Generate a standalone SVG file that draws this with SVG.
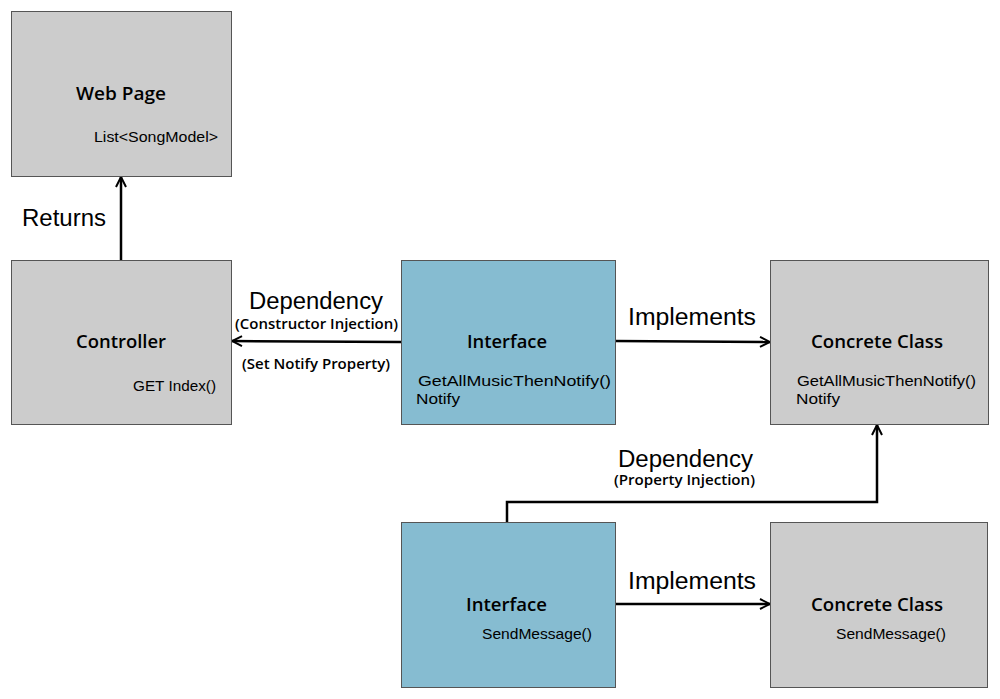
<svg xmlns="http://www.w3.org/2000/svg" width="1000" height="699" viewBox="0 0 1000 699">
<style>
.box{stroke:#555;stroke-width:1}
.gray{fill:#cccccc}
.blue{fill:#86bcd1}
text{font-family:"Liberation Sans",Arial,sans-serif;fill:#000}
.t{font-family:"Open Sans","Liberation Sans",sans-serif;font-size:18px;font-weight:600}
.s{font-size:15px}
.l{font-size:23px}
.p{font-family:"Open Sans","Liberation Sans",sans-serif;font-size:14px;font-weight:600}
.c{fill:none;stroke:#000;stroke-width:2.5}
</style>
<defs>
<marker id="ah" viewBox="0 0 12 12" refX="11" refY="6" markerWidth="12" markerHeight="12" markerUnits="userSpaceOnUse" orient="auto">
<path d="M1,1 L11,6 L1,11" fill="none" stroke="#000" stroke-width="2"/>
</marker>
</defs>
<rect width="1000" height="699" fill="#fff"/>
<g id="connectors">
<line class="c" x1="121" y1="260" x2="121" y2="177" marker-end="url(#ah)"/>
<line class="c" x1="401" y1="342" x2="232" y2="341" marker-end="url(#ah)"/>
<line class="c" x1="615" y1="341" x2="770" y2="342" marker-end="url(#ah)"/>
<polyline class="c" points="507,522 507,502 877,502 877,425" marker-end="url(#ah)"/>
<line class="c" x1="615" y1="604" x2="770" y2="604" marker-end="url(#ah)"/>
<text class="l" x="22" y="226" textLength="84" lengthAdjust="spacingAndGlyphs">Returns</text>
<text class="l" x="249" y="309" textLength="134" lengthAdjust="spacingAndGlyphs">Dependency</text>
<text class="p" x="235" y="329" textLength="163" lengthAdjust="spacingAndGlyphs">(Constructor Injection)</text>
<text class="p" x="242" y="369" textLength="148" lengthAdjust="spacingAndGlyphs">(Set Notify Property)</text>
<text class="l" x="628" y="325" textLength="128" lengthAdjust="spacingAndGlyphs">Implements</text>
<text class="l" x="618" y="467" textLength="135" lengthAdjust="spacingAndGlyphs">Dependency</text>
<text class="p" x="614" y="485" textLength="141" lengthAdjust="spacingAndGlyphs">(Property Injection)</text>
<text class="l" x="628" y="589" textLength="128" lengthAdjust="spacingAndGlyphs">Implements</text>
</g>
<g id="webpage">
<rect class="box gray" x="11.5" y="11.5" width="220" height="165"/>
<text class="t" x="76" y="100" textLength="90" lengthAdjust="spacingAndGlyphs">Web Page</text>
<text class="s" x="94" y="142" textLength="124" lengthAdjust="spacingAndGlyphs">List&lt;SongModel&gt;</text>
</g>
<g id="controller">
<rect class="box gray" x="11.5" y="260.5" width="220" height="164"/>
<text class="t" x="76" y="348" textLength="90" lengthAdjust="spacingAndGlyphs">Controller</text>
<text class="s" x="133" y="391" textLength="83" lengthAdjust="spacingAndGlyphs">GET Index()</text>
</g>
<g id="interface1">
<rect class="box blue" x="401.5" y="260.5" width="214" height="164"/>
<text class="t" x="467" y="348" textLength="80" lengthAdjust="spacingAndGlyphs">Interface</text>
<text class="s" x="418" y="386" textLength="193" lengthAdjust="spacingAndGlyphs">GetAllMusicThenNotify()</text>
<text class="s" x="416" y="404" textLength="44" lengthAdjust="spacingAndGlyphs">Notify</text>
</g>
<g id="concrete1">
<rect class="box gray" x="770.5" y="260.5" width="218" height="164"/>
<text class="t" x="811" y="348" textLength="132" lengthAdjust="spacingAndGlyphs">Concrete Class</text>
<text class="s" x="797" y="386" textLength="179" lengthAdjust="spacingAndGlyphs">GetAllMusicThenNotify()</text>
<text class="s" x="796" y="404" textLength="44" lengthAdjust="spacingAndGlyphs">Notify</text>
</g>
<g id="interface2">
<rect class="box blue" x="401.5" y="522.5" width="214" height="165"/>
<text class="t" x="466" y="611" textLength="81" lengthAdjust="spacingAndGlyphs">Interface</text>
<text class="s" x="482" y="639" textLength="110" lengthAdjust="spacingAndGlyphs">SendMessage()</text>
</g>
<g id="concrete2">
<rect class="box gray" x="770.5" y="522.5" width="217" height="165"/>
<text class="t" x="811" y="611" textLength="132" lengthAdjust="spacingAndGlyphs">Concrete Class</text>
<text class="s" x="836" y="639" textLength="110" lengthAdjust="spacingAndGlyphs">SendMessage()</text>
</g>
</svg>
